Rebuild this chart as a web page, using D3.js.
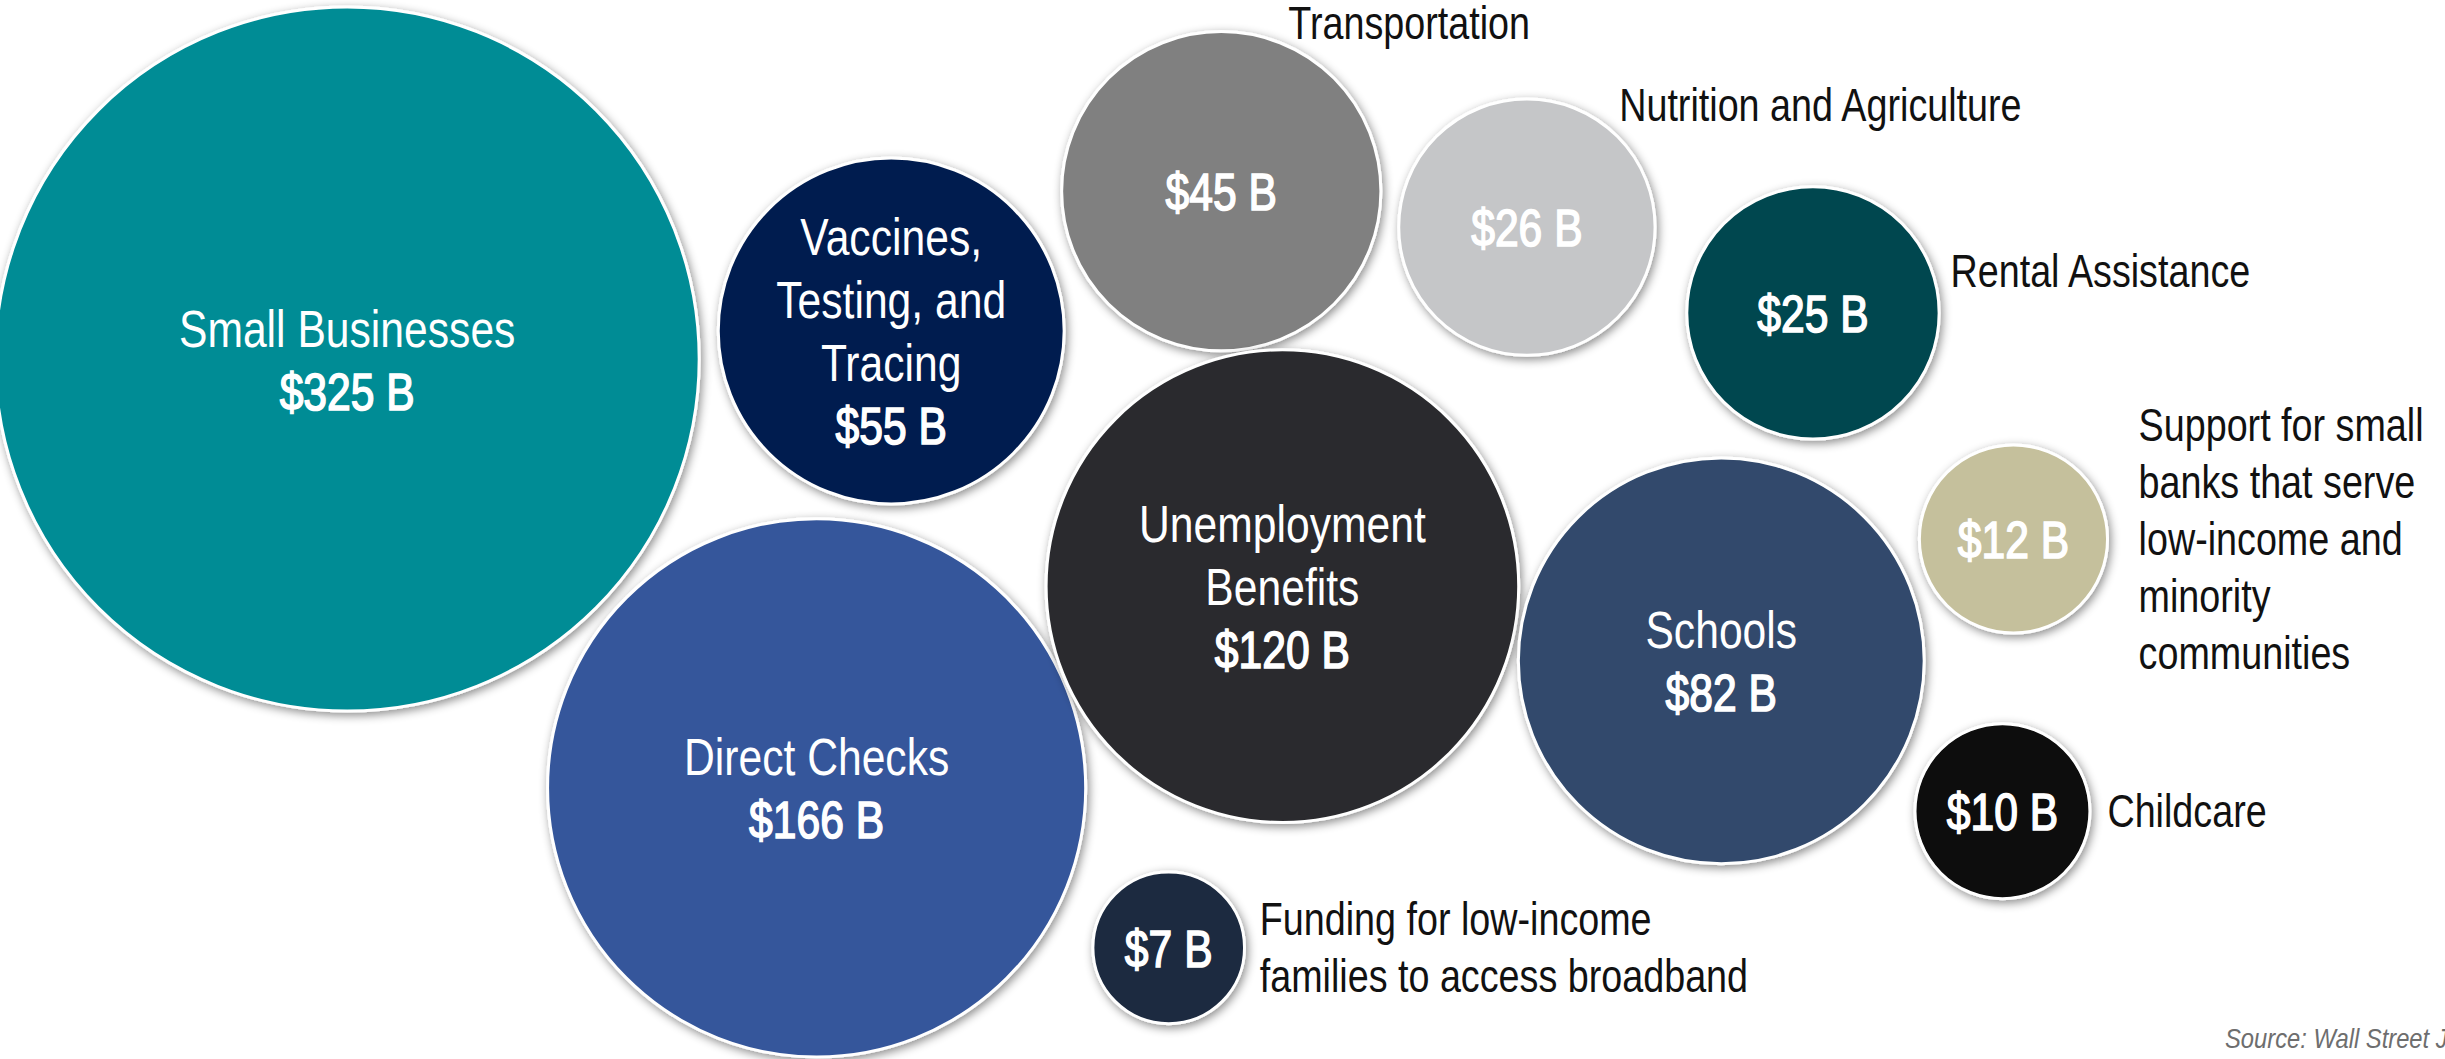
<!DOCTYPE html>
<html>
<head>
<meta charset="utf-8">
<script src="https://cdn.jsdelivr.net/npm/d3@7"></script>
<style>
  body { margin: 0; background: #fff; }
  svg { display: block; }
  text { font-family: "Liberation Sans", Arial, sans-serif; }
</style>
</head>
<body>
<div id="chart"></div>
<script>
const width = 2445;
const height = 1059;

// Data (billions of dollars)
const categories = [
    "Small Businesses",
    "Direct Checks",
    "Vaccines,\nTesting, and\nTracing",
    "Transportation",
    "Nutrition and Agriculture",
    "Rental Assistance",
    "Unemployment\nBenefits",
    "Schools",
    "Support for small\nbanks that serve\nlow-income and\nminority\ncommunities",
    "Childcare",
    "Funding for low-income\nfamilies to access broadband"
];
const values = [325, 166, 55, 45, 26, 25, 120, 82, 12, 10, 7];
const colors = ["#008c95", "#36579b", "#041f50", "#808080", "#c5c6c8", "#02474f",
                "#2a2b2e", "#314a6c", "#c5c09c", "#080808", "#1c2a40"];
const nameInside = [true, true, true, false, false, false, true, true, false, false, false];

// Hand-packed layout on a 0-100 grid (centres), and outside-label offsets in radii
const gridX = [14.2, 33.4, 36.45, 49.95, 62.45, 74.15, 52.45, 70.4, 82.35, 81.9, 47.8];
const gridY = [33.9, 74.4, 31.25, 18.05, 21.45, 29.55, 55.35, 62.4, 50.9, 76.6, 89.5];
const labelDX = [0, 0, 0, 0.42, 0.72, 1.09, 0, 0, 1.33, 1.2, 1.2];
const labelDY = [0, 0, 0, -1.055, -0.95, -0.33, 0, 0, 0, 0, 0];

// narrow type: the original uses a condensed face
const squeeze = 0.82;

const x = d3.scaleLinear().domain([0, 100]).range([0, width]);
const y = d3.scaleLinear().domain([0, 100]).range([0, height]);
const r = d3.scalePow().exponent(0.4).domain([0, d3.max(values)]).range([0, 352]);

const data = values.map((v, i) => ({
    name: categories[i],
    value: v,
    color: colors[i],
    inside: nameInside[i],
    cx: x(gridX[i]),
    cy: y(gridY[i]),
    r: r(v),
    dx: labelDX[i],
    dy: labelDY[i]
}));

const svg = d3.select("#chart")
    .append("svg")
    .attr("width", width)
    .attr("height", height);

const shadow = svg.append("defs").append("filter")
    .attr("id", "shadow")
    .attr("x", "-20%").attr("y", "-20%")
    .attr("width", "140%").attr("height", "140%");
shadow.append("feDropShadow")
    .attr("dx", 2).attr("dy", 3)
    .attr("stdDeviation", 5)
    .attr("flood-color", "#000")
    .attr("flood-opacity", 0.45);

const bubble = svg.append("g")
    .selectAll("g")
    .data(data)
    .join("g")
    .attr("transform", d => `translate(${d.cx},${d.cy})`);

bubble.append("circle")
    .attr("r", d => d.r)
    .attr("fill", d => d.color)
    .attr("stroke", "#fff")
    .attr("stroke-width", 3)
    .attr("filter", "url(#shadow)");

const lineH = 63;

// text inside the circles: name lines + value (value a bit heavier)
bubble.each(function(d) {
    const lines = d.inside ? d.name.split("\n") : [];
    const all = lines.map(t => ({ t, bold: false })).concat([{ t: `$${d.value} B`, bold: true }]);
    const n = all.length;
    d3.select(this).selectAll("text.in")
        .data(all)
        .join("text")
        .attr("class", "in")
        .attr("text-anchor", "middle")
        .attr("transform", (l, i) => `translate(0,${(i - (n - 1) / 2) * lineH + 19}) scale(${squeeze},1)`)
        .attr("fill", "#fff")
        .attr("stroke", l => l.bold ? "#fff" : "none")
        .attr("stroke-width", 1.6)
        .attr("font-size", l => l.bold ? 52 : 52)
        .text(l => l.t);
});

// names outside the small circles
const outside = data.filter(d => !d.inside);
svg.append("g")
    .selectAll("text")
    .data(outside)
    .join("text")
    .attr("transform", d => `translate(${d.cx + d.r * d.dx},${d.cy + d.r * d.dy}) scale(${squeeze},1)`)
    .attr("font-size", 46)
    .attr("fill", "#111")
    .each(function(d) {
        const lines = d.name.split("\n");
        const n = lines.length;
        d3.select(this).selectAll("tspan")
            .data(lines)
            .join("tspan")
            .attr("x", 0)
            .attr("y", (t, i) => (i - (n - 1) / 2) * 57 + 16)
            .text(t => t);
    });

svg.append("text")
    .attr("transform", "translate(2225,1048) scale(0.88,1)")
    .attr("font-size", 27)
    .attr("font-style", "italic")
    .attr("fill", "#6e6e6e")
    .text("Source: Wall Street Journal");
</script>
</body>
</html>
